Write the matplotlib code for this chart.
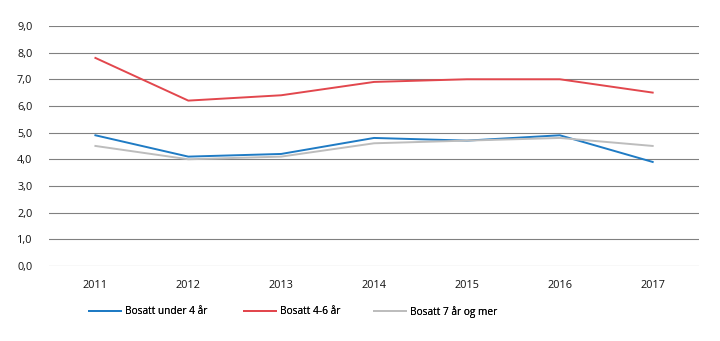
import matplotlib
matplotlib.use('Agg')
import matplotlib.pyplot as plt
import numpy as np

years = ['2011', '2012', '2013', '2014', '2015', '2016', '2017']
under4 = [4.9, 4.1, 4.2, 4.8, 4.7, 4.9, 3.9]
bosatt46 = [7.8, 6.2, 6.4, 6.9, 7.0, 7.0, 6.5]
over7 = [4.5, 4.0, 4.1, 4.6, 4.7, 4.8, 4.5]
labels = ['Bosatt under 4 år', 'Bosatt 4-6 år', 'Bosatt 7 år og mer']

plt.rcParams['font.family'] = ['Open Sans', 'DejaVu Sans']

fig = plt.figure(figsize=(7.2, 3.41), dpi=100)
ax = fig.add_axes([0.068, 0.22, 0.903, 0.704])

x = np.arange(len(years))
l1, = ax.plot(x, under4, color='#1f7bc4', lw=1.4, label=labels[0])
l2, = ax.plot(x, bosatt46, color='#e2474d', lw=1.4, label=labels[1])
l3, = ax.plot(x, over7, color='#bdbdbd', lw=1.4, label=labels[2])

ax.set_xlim(-0.5, len(years) - 0.5)
ax.set_ylim(0, 9)
ticks = np.arange(0, 10, 1)
ax.set_yticks(ticks)
ax.set_yticklabels([f'{t:.1f}'.replace('.', ',') for t in ticks])
ax.set_xticks(x)
ax.set_xticklabels(years)
for t in ticks:
    ax.axhline(t, color='#808080', lw=0.8, zorder=0)

for s in ax.spines.values():
    s.set_visible(False)
ax.tick_params(length=0, labelsize=7.8, colors='#111111')
ax.tick_params(axis='y', pad=12)
ax.tick_params(axis='x', pad=10)

# three separate legend entries, placed like the original
for line, lab, xpos in [(l1, labels[0], 88), (l2, labels[1], 243), (l3, labels[2], 373)]:
    leg = fig.legend([line], [lab], loc='center left',
                     bbox_to_anchor=(xpos / 720 - 0.011, 1 - 312 / 341),
                     frameon=False, fontsize=7.3, handlelength=3.1, handletextpad=0.4)
    fig.add_artist(leg)

fig.savefig('out.png', dpi=100)
